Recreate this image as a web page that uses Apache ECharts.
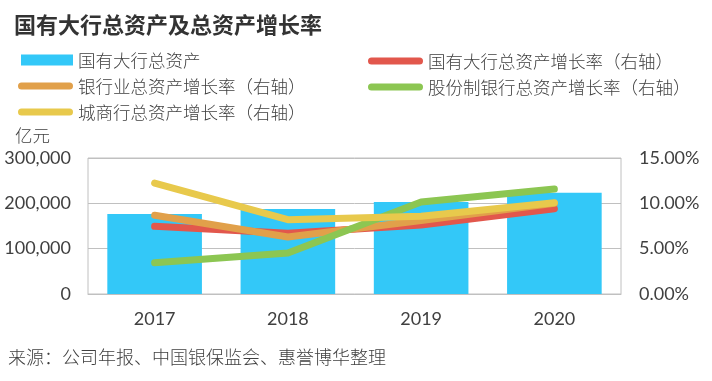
<!DOCTYPE html>
<html><head><meta charset="utf-8">
<script src="https://cdn.jsdelivr.net/npm/echarts@6/dist/echarts.min.js"></script>
<style>html,body{margin:0;padding:0;background:#fff}#c{width:712px;height:381px}</style>
</head><body><div id="c"></div>
<script>
const categories = ['2017', '2018', '2019', '2020'];
const bigBankAssets = [176500, 187500, 203000, 223500];            // 国有大行总资产 (亿元)
const bigBankGrowth = [7.46, 6.7, 7.6, 9.41];                       // 国有大行总资产增长率 (%)
const bankingGrowth = [8.68, 6.29, 8.1, 10.0];                      // 银行业总资产增长率 (%)
const jointStockGrowth = [3.45, 4.52, 10.15, 11.58];                // 股份制银行总资产增长率 (%)
const cityBankGrowth = [12.24, 8.2, 8.57, 10.07];                   // 城商行总资产增长率 (%)
const leftTicks = [0, 100000, 200000, 300000];
const rightTicks = [0, 5, 10, 15];

const FONT = "Lato, 'Noto Sans CJK SC', sans-serif";
const CJK = "'Noto Sans CJK SC', sans-serif";
const TXT = '#404040';
const colors = { bar: '#33C8F8', red: '#E2574C', orange: '#E1A04A', green: '#8CC652', yellow: '#E8C94C' };
const CAPSULE = 'path://M3.5,0H51.5A3.5,3.5,0,0,1,51.5,7H3.5A3.5,3.5,0,0,1,3.5,0Z';

const chart = echarts.init(document.getElementById('c'));
const legendText = { fontSize: 17.5, color: TXT, fontFamily: CJK, fontWeight: 300, lineHeight: 18 };
const lineStyle = c => ({ width: 7, color: c, cap: 'round', join: 'round' });
const lineLegend = (left, top, names) => ({
  orient: 'vertical', left, top, itemWidth: 55, itemHeight: 7, itemGap: 8,
  textStyle: legendText, icon: CAPSULE,
  data: names.map(n => ({ name: n, icon: CAPSULE }))
});
chart.setOption({
  animation: false,
  title: { text: '国有大行总资产及总资产增长率', left: 9, top: 9,
    textStyle: { fontSize: 22, fontWeight: 'bold', color: '#333', fontFamily: CJK } },
  legend: [
    { orient: 'vertical', left: 16, top: 46, itemWidth: 52, itemHeight: 11,
      textStyle: legendText, data: [{ name: '国有大行总资产', icon: 'rect' }] },
    lineLegend(13, 72, ['银行业总资产增长率（右轴）', '城商行总资产增长率（右轴）']),
    lineLegend(363, 47, ['国有大行总资产增长率（右轴）', '股份制银行总资产增长率（右轴）'])
  ],
  graphic: [
    { type: 'text', left: 15, top: 127, style: { text: '亿元', fontSize: 17.5, fontWeight: 300, fill: TXT, fontFamily: CJK } },
    { type: 'text', left: 8, top: 348, style: { text: '来源：公司年报、中国银保监会、惠誉博华整理', fontSize: 18, fontWeight: 300, fill: TXT, fontFamily: CJK } }
  ],
  grid: { left: 88, right: 91, top: 158, bottom: 87, show: true, borderColor: '#C0C0C0', borderWidth: 1 },
  xAxis: { type: 'category', data: categories,
    axisLine: { lineStyle: { color: '#C0C0C0' } }, axisTick: { show: false },
    axisLabel: { fontSize: 18, color: TXT, fontFamily: FONT, margin: 16 } },
  yAxis: [
    { type: 'value', min: leftTicks[0], max: leftTicks[leftTicks.length - 1], interval: leftTicks[1] - leftTicks[0],
      splitLine: { lineStyle: { color: '#C0C0C0' } }, axisLine: { show: false }, axisTick: { show: false },
      axisLabel: { fontSize: 18, color: TXT, fontFamily: FONT, margin: 17,
        formatter: v => v.toLocaleString('en-US') } },
    { type: 'value', min: rightTicks[0], max: rightTicks[rightTicks.length - 1], interval: rightTicks[1] - rightTicks[0],
      splitLine: { show: false }, axisLine: { show: false }, axisTick: { show: false },
      axisLabel: { fontSize: 18, color: TXT, fontFamily: FONT, margin: 18,
        formatter: v => v.toFixed(2) + '%' } }
  ],
  series: [
    { name: '国有大行总资产', type: 'bar', data: bigBankAssets, barWidth: '71%', itemStyle: { color: colors.bar } },
    { name: '国有大行总资产增长率（右轴）', type: 'line', yAxisIndex: 1, data: bigBankGrowth, symbol: 'none',
      itemStyle: { color: colors.red }, lineStyle: lineStyle(colors.red) },
    { name: '银行业总资产增长率（右轴）', type: 'line', yAxisIndex: 1, data: bankingGrowth, symbol: 'none',
      itemStyle: { color: colors.orange }, lineStyle: lineStyle(colors.orange) },
    { name: '股份制银行总资产增长率（右轴）', type: 'line', yAxisIndex: 1, data: jointStockGrowth, symbol: 'none',
      itemStyle: { color: colors.green }, lineStyle: lineStyle(colors.green) },
    { name: '城商行总资产增长率（右轴）', type: 'line', yAxisIndex: 1, data: cityBankGrowth, symbol: 'none',
      itemStyle: { color: colors.yellow }, lineStyle: lineStyle(colors.yellow) }
  ]
});
</script></body></html>
